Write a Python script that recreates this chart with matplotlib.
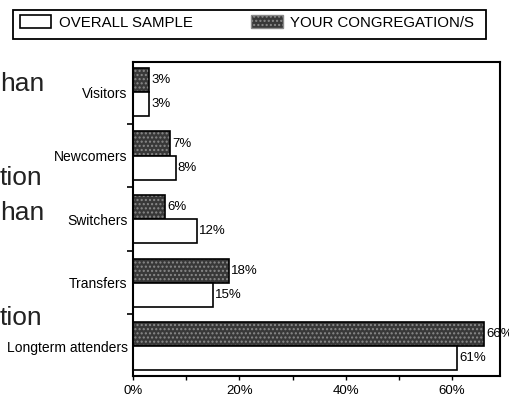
import matplotlib
matplotlib.use("Agg")
import matplotlib.pyplot as plt
from matplotlib.patches import Patch, Rectangle
import numpy as np

categories = ["Visitors", "Newcomers", "Switchers", "Transfers", "Longterm attenders"]
overall = [3, 8, 12, 15, 61]
yours = [3, 7, 6, 18, 66]
xticks = [0, 20, 40, 60]
xticklabels = ["0%", "20%", "40%", "60%"]
fragments = ["han", "tion", "han", "tion"]

plt.rcParams['font.family'] = ['Liberation Sans', 'DejaVu Sans']

fig = plt.figure(figsize=(5.1, 4.01), dpi=100)
ax = fig.add_axes([0.261, 0.062, 0.719, 0.783])

y = np.arange(len(categories))
h = 0.38
dark = "#383838"
ax.barh(y - h / 2, yours, height=h, color=dark, edgecolor="#8a8a8a", hatch="....", linewidth=0)
ax.barh(y - h / 2, yours, height=h, fill=False, edgecolor="black", linewidth=1.2)
ax.barh(y + h / 2, overall, height=h, color="white", edgecolor="black", linewidth=1.2)

for yi, v in zip(y, yours):
    ax.text(v + 0.4, yi - h / 2, f"{v}%", va="center", ha="left", fontsize=9.5)
for yi, v in zip(y, overall):
    ax.text(v + 0.4, yi + h / 2, f"{v}%", va="center", ha="left", fontsize=9.5)

ax.set_xlim(0, 69)
ax.set_ylim(len(categories) - 0.53, -0.47)
ax.set_xticks(xticks)
ax.set_xticklabels(xticklabels, fontsize=9.5)
ax.set_xticks([10, 30, 50], minor=True)
ax.set_yticks(y)
ax.set_yticklabels(categories, fontsize=10)
ax.set_yticks(y[:-1] + 0.5, minor=True)
ax.tick_params(axis="y", which="major", length=0, pad=4)
ax.tick_params(axis="y", which="minor", length=4, width=1.2, direction="out")
ax.tick_params(axis="x", which="both", length=3, width=1, direction="out")
for s in ax.spines.values():
    s.set_linewidth(1.5)

handles = [Patch(facecolor="white", edgecolor="black", linewidth=1.2),
           Patch(facecolor=dark, edgecolor="#8a8a8a", hatch="....", linewidth=1)]
leg = fig.legend(handles, ["OVERALL SAMPLE", "YOUR CONGREGATION/S"], ncol=2,
                 loc="upper left", bbox_to_anchor=(0.0137, 0.995), frameon=False,
                 fontsize=10.8, handlelength=2.1, handleheight=1.0,
                 columnspacing=3.9, borderpad=0.35, handletextpad=0.5)
fig.patches.append(Rectangle((13 / 510, 1 - 39 / 401), 473 / 510, 29 / 401,
                             transform=fig.transFigure, fill=False,
                             edgecolor="black", linewidth=1.3))

for txt, yy in zip(fragments, [0.773, 0.539, 0.452, 0.19]):
    fig.text(0.0, yy, txt, fontsize=19, va="baseline", ha="left", color="#222")

fig.savefig("out.png", dpi=100)
